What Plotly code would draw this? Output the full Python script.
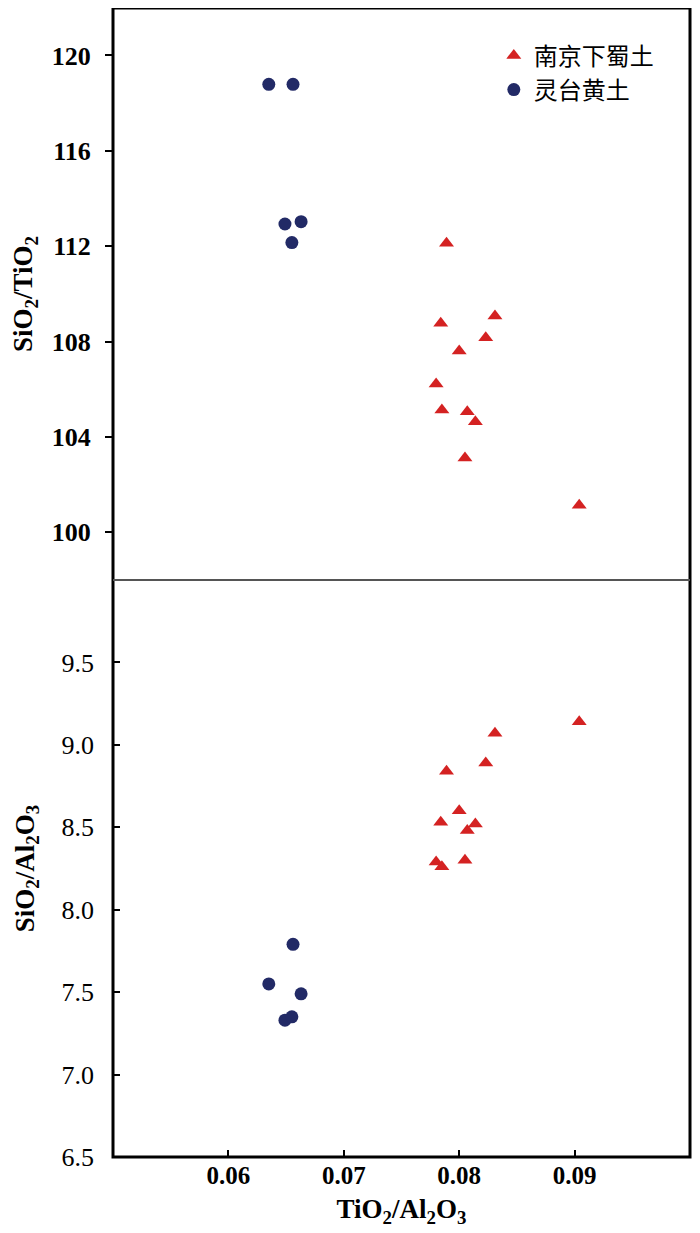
import plotly.graph_objects as go

# 南京下蜀土 (Nanjing Xiashu loess)
xs_tial = [0.0904, 0.0831, 0.0823, 0.0789, 0.0800, 0.0784, 0.0814, 0.0807, 0.0780, 0.0785, 0.0805]
xs_siti = [101.13, 109.07, 108.16, 112.12, 107.60, 108.77, 104.64, 105.06, 106.22, 105.13, 103.12]
xs_sial = [9.14, 9.07, 8.89, 8.84, 8.60, 8.53, 8.52, 8.48, 8.29, 8.26, 8.30]

# 灵台黄土 (Lingtai loess)
lt_tial = [0.0635, 0.0656, 0.0649, 0.0663, 0.0655]
lt_siti = [118.79, 118.79, 112.93, 113.03, 112.15]
lt_sial = [7.55, 7.79, 7.33, 7.49, 7.35]

name_xs = "南京下蜀土"
name_lt = "灵台黄土"
red = "#D42222"
navy = "#222A66"

split = (1149 - 572) / 1149.0

fig = go.Figure()
fig.add_trace(go.Scatter(x=xs_tial, y=xs_siti, mode="markers", name=name_xs,
                         marker=dict(symbol="triangle-up", size=13, color=red),
                         xaxis="x", yaxis="y"))
fig.add_trace(go.Scatter(x=lt_tial, y=lt_siti, mode="markers", name=name_lt,
                         marker=dict(symbol="circle", size=13, color=navy),
                         xaxis="x", yaxis="y"))
fig.add_trace(go.Scatter(x=xs_tial, y=xs_sial, mode="markers", name=name_xs, showlegend=False,
                         marker=dict(symbol="triangle-up", size=13, color=red),
                         xaxis="x2", yaxis="y2"))
fig.add_trace(go.Scatter(x=lt_tial, y=lt_sial, mode="markers", name=name_lt, showlegend=False,
                         marker=dict(symbol="circle", size=13, color=navy),
                         xaxis="x2", yaxis="y2"))

serif = "Liberation Serif"
tick_bold = dict(family=serif, size=25, color="black", weight="bold")
ytick_bold = dict(family=serif, size=26, color="black", weight="bold")
ytick_reg = dict(family=serif, size=26, color="black")
title_font = dict(family=serif, size=27, color="black", weight="bold")

fig.update_layout(
    width=700, height=1233,
    margin=dict(l=105, r=18, t=0, b=84),
    paper_bgcolor="white", plot_bgcolor="white",
    showlegend=True,
    legend=dict(x=0.66, y=0.978, xanchor="left", yanchor="top",
                font=dict(family="Noto Sans CJK SC", size=24, color="black"),
                bgcolor="rgba(0,0,0,0)", itemwidth=30, tracegroupgap=0),
    xaxis=dict(domain=[0, 1], range=[0.05, 0.1], anchor="y", showticklabels=False,
               ticks="", showgrid=False, zeroline=False, showline=False),
    yaxis=dict(domain=[split, 1], range=[98.0, 121.99], anchor="x",
               tickvals=[100, 104, 108, 112, 116, 120], ticks="outside", ticklen=7,
               tickwidth=1.5, tickcolor="black", tickfont=ytick_bold, ticklabelstandoff=9,
               showgrid=False, zeroline=False, showline=False,
               title=dict(text="SiO<sub>2</sub>/TiO<sub>2</sub>", standoff=15,
                          font=title_font)),
    xaxis2=dict(domain=[0, 1], range=[0.05, 0.1], anchor="y2",
                tickvals=[0.06, 0.07, 0.08, 0.09], ticktext=["0.06", "0.07", "0.08", "0.09"],
                ticks="inside", ticklen=7, tickwidth=1.5, tickcolor="black",
                tickfont=tick_bold, ticklabelstandoff=1,
                showgrid=False, zeroline=False, showline=False,
                title=dict(text="TiO<sub>2</sub>/Al<sub>2</sub>O<sub>3</sub>", standoff=11,
                           font=title_font)),
    yaxis2=dict(domain=[0, split], range=[6.5, 10.0], anchor="x2",
                tickvals=[6.5, 7.0, 7.5, 8.0, 8.5, 9.0, 9.5],
                ticktext=["6.5", "7.0", "7.5", "8.0", "8.5", "9.0", "9.5"],
                ticks="inside", ticklen=7, tickwidth=1.5, tickcolor="black",
                tickfont=ytick_reg, ticklabelstandoff=18,
                showgrid=False, zeroline=False, showline=False,
                title=dict(text="SiO<sub>2</sub>/Al<sub>2</sub>O<sub>3</sub>", standoff=19,
                           font=title_font)),
    shapes=[
        dict(type="rect", xref="paper", yref="paper", x0=0, x1=1, y0=0, y1=1,
             line=dict(color="black", width=3), layer="above"),
        dict(type="line", xref="paper", yref="paper", x0=0, x1=1, y0=split, y1=split,
             line=dict(color="#555555", width=2), layer="above"),
    ],
)

fig.write_html("out.html")
